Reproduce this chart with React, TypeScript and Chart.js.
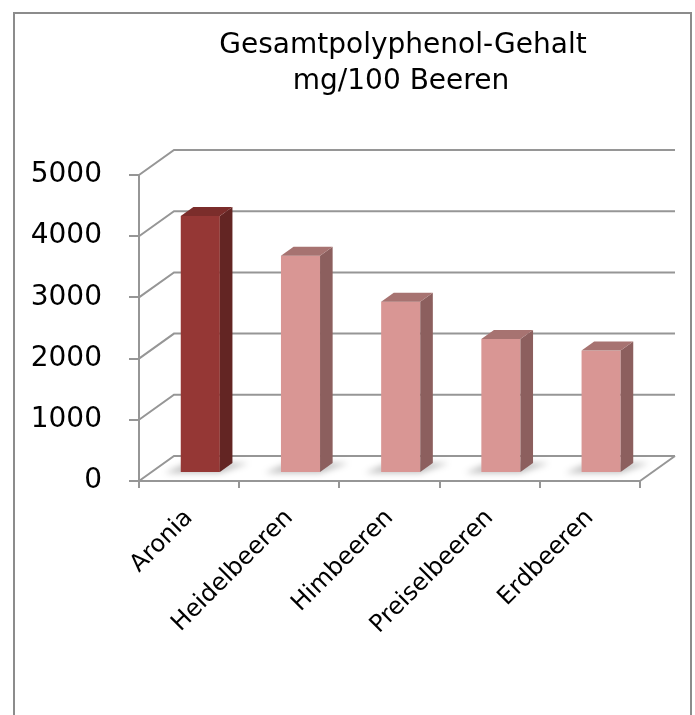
import { useEffect, useRef } from "react";
import { Chart, registerables } from "chart.js";

Chart.register(...registerables);

// ---- data ----
const categories = ["Aronia", "Heidelbeeren", "Himbeeren", "Preiselbeeren", "Erdbeeren"];
const values = [4200, 3550, 2800, 2190, 2000];
const titleLines = ["Gesamtpolyphenol-Gehalt", "mg/100 Beeren"];
const yMin = 0;
const yMax = 5000;
const yStep = 1000;

// ---- styles ----
const FONT = '"DejaVu Sans", "Liberation Sans", sans-serif';
const GRID = "#969696";
const highlightFaces = { front: "#953735", side: "#632523", top: "#7B2D2B" };
const normalFaces = { front: "#D99694", side: "#8C5F5E", top: "#A77371" };
const DEPTH = { dx: 35, dy: -25 };
const BAR_DEPTH = { start: 0.32, end: 0.68 };

const wall3d = {
  id: "wall3d",
  beforeDatasetsDraw(chart: any) {
    const { ctx, chartArea, scales } = chart;
    const y = scales.y;
    ctx.save();
    ctx.strokeStyle = GRID;
    ctx.lineWidth = 2;
    y.ticks.forEach((t: any) => {
      const py = y.getPixelForValue(t.value);
      ctx.beginPath();
      ctx.moveTo(chartArea.left, py);
      ctx.lineTo(chartArea.left + DEPTH.dx, py + DEPTH.dy);
      ctx.lineTo(chartArea.right + DEPTH.dx, py + DEPTH.dy);
      ctx.stroke();
    });
    const base = y.getPixelForValue(0);
    ctx.beginPath();
    ctx.moveTo(chartArea.right, base);
    ctx.lineTo(chartArea.right + DEPTH.dx, base + DEPTH.dy);
    ctx.stroke();
    ctx.restore();
  },
  afterDatasetsDraw(chart: any) {
    const { ctx } = chart;
    const meta = chart.getDatasetMeta(0);
    const s = BAR_DEPTH.start;
    const bdx = (BAR_DEPTH.end - BAR_DEPTH.start) * DEPTH.dx;
    const bdy = (BAR_DEPTH.end - BAR_DEPTH.start) * DEPTH.dy;
    meta.data.forEach((el: any, i: number) => {
      const p = el.getProps(["x", "y", "base", "width"], true);
      const faces = i === 0 ? highlightFaces : normalFaces;
      const left = p.x - p.width / 2 + s * DEPTH.dx;
      const right = left + p.width;
      const topY = p.y + s * DEPTH.dy;
      const botY = p.base + s * DEPTH.dy;
      // soft floor shadow
      ctx.save();
      ctx.filter = "blur(3px)";
      ctx.fillStyle = "rgba(0,0,0,0.25)";
      ctx.beginPath();
      ctx.moveTo(left - 16, botY + 1);
      ctx.lineTo(right, botY + 1);
      ctx.lineTo(right + bdx + 16, botY + bdy);
      ctx.lineTo(left + bdx - 6, botY + bdy);
      ctx.closePath();
      ctx.fill();
      ctx.restore();

      ctx.save();
      // front
      ctx.fillStyle = faces.front;
      ctx.fillRect(left, topY, p.width, botY - topY);
      // side
      ctx.fillStyle = faces.side;
      ctx.beginPath();
      ctx.moveTo(right, topY);
      ctx.lineTo(right + bdx, topY + bdy);
      ctx.lineTo(right + bdx, botY + bdy);
      ctx.lineTo(right, botY);
      ctx.closePath();
      ctx.fill();
      // top
      ctx.fillStyle = faces.top;
      ctx.beginPath();
      ctx.moveTo(left, topY);
      ctx.lineTo(left + bdx, topY + bdy);
      ctx.lineTo(right + bdx, topY + bdy);
      ctx.lineTo(right, topY);
      ctx.closePath();
      ctx.fill();
      ctx.restore();
    });
  },
};

const titlePlugin = {
  id: "titleLines",
  afterDraw(chart: any) {
    const { ctx } = chart;
    ctx.save();
    ctx.fillStyle = "#000";
    ctx.font = `28px ${FONT}`;
    ctx.textAlign = "center";
    ctx.textBaseline = "alphabetic";
    ctx.fillText(titleLines[0], 403, 53);
    ctx.fillText(titleLines[1], 401, 89);
    ctx.restore();
  },
};

export default function App() {
  const ref = useRef<HTMLCanvasElement | null>(null);
  useEffect(() => {
    if (!ref.current) return;
    const chart = new Chart(ref.current, {
      type: "bar",
      data: {
        labels: categories,
        datasets: [
          {
            data: values,
            backgroundColor: "rgba(0,0,0,0)",
            borderWidth: 0,
            barPercentage: 0.39,
            categoryPercentage: 1,
          },
        ],
      },
      options: {
        responsive: false,
        devicePixelRatio: 1,
        animation: false,
        layout: { padding: { top: 175, right: 55, left: 0, bottom: 0 } },
        plugins: { legend: { display: false }, tooltip: { enabled: false }, title: { display: false } },
        scales: {
          x: {
            offset: true,
            grid: { drawOnChartArea: false, offset: true, tickLength: 7, color: GRID, lineWidth: 2 },
            border: { display: true, color: GRID, width: 2 },
            ticks: {
              autoSkip: false,
              maxRotation: 45,
              minRotation: 45,
              padding: 16,
              color: "#000",
              font: { family: FONT, size: 24 },
            },
            afterFit: (scale: any) => {
              scale.height = 234;
              scale.paddingLeft = 0;
              scale.paddingRight = 0;
            },
          },
          y: {
            min: yMin,
            max: yMax,
            grid: { drawOnChartArea: false, tickLength: 10, color: GRID, lineWidth: 2 },
            border: { display: true, color: GRID, width: 2 },
            ticks: {
              stepSize: yStep,
              padding: 27,
              color: "#000",
              font: { family: FONT, size: 28 },
              callback: (v: any) => String(v),
            },
            afterFit: (scale: any) => {
              scale.width = 139;
            },
          },
        },
      },
      plugins: [wall3d, titlePlugin],
    });
    return () => chart.destroy();
  }, []);

  return (
    <div style={{ position: "fixed", left: 0, top: 0, width: 695, height: 715, overflow: "hidden", background: "#fff" }}>
      <div
        style={{
          position: "absolute",
          left: 13,
          top: 12,
          width: 675,
          height: 800,
          border: "2px solid #8c8c8c",
          boxSizing: "content-box",
        }}
      />
      <canvas ref={ref} width={695} height={715} style={{ position: "absolute", left: 0, top: 0, width: 695, height: 715 }} />
    </div>
  );
}
